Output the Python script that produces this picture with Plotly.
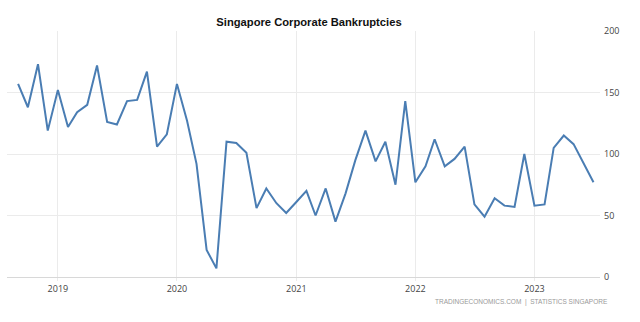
import plotly.graph_objects as go
import pandas as pd

dates = pd.date_range("2018-09-01", "2023-07-01", freq="MS")
values = [157, 138, 173, 119, 152, 122, 134, 140, 172, 126, 124, 143, 144, 167, 106, 116,
          157, 127, 92, 22, 7, 110, 109, 101, 56, 72, 60, 52, 61, 70, 50, 72, 45, 68, 95,
          119, 94, 110, 75, 143, 77, 90, 112, 90, 96, 106, 59, 49, 64, 58, 57, 100, 58, 59,
          105, 115, 108, 92, 77]
y_ticks = [0, 50, 100, 150, 200]
title_text = "Singapore Corporate Bankruptcies"
source_text = "TRADINGECONOMICS.COM  |  STATISTICS SINGAPORE"

fig = go.Figure()
fig.add_trace(go.Scatter(x=dates, y=values, mode="lines",
                         line=dict(color="#4a7db3", width=2), hoverinfo="skip"))

fig.update_layout(
    width=640, height=322,
    margin=dict(l=7, r=40, t=31, b=44.5),
    paper_bgcolor="white", plot_bgcolor="white",
    showlegend=False,
    title=dict(text="<b>" + title_text + "</b>", x=309/640, y=1-22.5/322,
               xref="container", yref="container", xanchor="center", yanchor="middle",
               font=dict(family="Arial, Liberation Sans", size=11.2, color="#111")),
    font=dict(family="Segoe UI, Open Sans, Arial", size=9, color="#444"),
)
fig.update_xaxes(
    type="date", range=["2018-07-29", "2023-07-21"],
    tick0="2019-01-01", dtick="M12", tickformat="%Y",
    showgrid=True, gridcolor="#ebebeb", gridwidth=1,
    ticks="outside", ticklen=3, tickcolor="#ebebeb",
    showline=False, zeroline=False,
    tickfont=dict(size=9, color="#444"),
)
fig.update_yaxes(
    range=[0, 200], tickvals=y_ticks, side="right",
    showgrid=True, gridcolor="#ebebeb", gridwidth=1,
    zeroline=True, zerolinecolor="#d8d8d8", zerolinewidth=1,
    showline=False, ticks="", ticklabelstandoff=3,
    tickfont=dict(size=9, color="#444"),
)
fig.add_annotation(text=source_text, xref="paper", yref="paper",
                   x=(610-7)/593, y=(277.5-303)/246.5, xanchor="right", yanchor="middle",
                   showarrow=False, font=dict(family="Arial, Liberation Sans", size=6.5, color="#999"))

fig.write_html("out.html")
